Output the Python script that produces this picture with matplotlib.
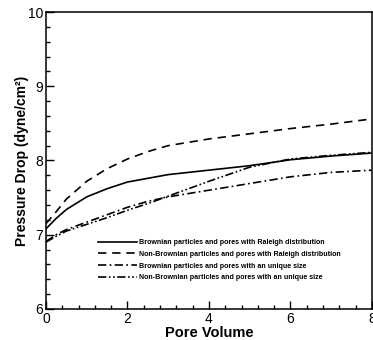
import matplotlib
matplotlib.use("Agg")
import matplotlib.pyplot as plt
from matplotlib.ticker import MultipleLocator

plt.rcParams['font.family'] = ['Liberation Sans', 'DejaVu Sans']

# pore volume and pressure drop
pore_volume = [0, 0.25, 0.5, 1, 1.5, 2, 2.5, 3, 4, 5, 6, 7, 8]
brownian_raleigh = [7.08, 7.22, 7.34, 7.51, 7.62, 7.71, 7.76, 7.81, 7.87, 7.93, 8.01, 8.06, 8.10]
nonbrownian_raleigh = [7.15, 7.31, 7.48, 7.72, 7.89, 8.02, 8.12, 8.20, 8.29, 8.36, 8.43, 8.49, 8.56]
brownian_unique = [6.91, 7.00, 7.07, 7.17, 7.27, 7.37, 7.45, 7.51, 7.60, 7.69, 7.78, 7.84, 7.87]
nonbrownian_unique = [6.90, 6.98, 7.05, 7.14, 7.23, 7.33, 7.42, 7.52, 7.72, 7.91, 8.02, 8.07, 8.11]

labels = ["Brownian particles and pores with Raleigh distribution",
          "Non-Brownian particles and pores with Raleigh distribution",
          "Brownian particles and pores with an unique size",
          "Non-Brownian particles and pores with an unique size"]

fig = plt.figure(figsize=(3.73, 3.40), dpi=100)
ax = fig.add_axes([0.1233, 0.0912, 0.8737, 0.8735])

lw = 1.2
ax.plot(pore_volume, brownian_raleigh, color='black', lw=lw, label=labels[0])
ax.plot(pore_volume, nonbrownian_raleigh, color='black', lw=lw, dashes=(5, 3.5), label=labels[1])
ax.plot(pore_volume, brownian_unique, color='black', lw=lw, dashes=(5, 2, 1, 2), label=labels[2])
ax.plot(pore_volume, nonbrownian_unique, color='black', lw=lw, dashes=(5, 1.5, 1, 1.5, 1, 1.5), label=labels[3])

ax.set_xlim(0, 8)
ax.set_ylim(6, 10)
ax.xaxis.set_major_locator(MultipleLocator(2))
ax.xaxis.set_minor_locator(MultipleLocator(0.4))
ax.yaxis.set_major_locator(MultipleLocator(1))
ax.yaxis.set_minor_locator(MultipleLocator(0.2))
ax.tick_params(which='both', direction='in', labelsize=10, width=1)
ax.tick_params(which='major', length=5.5, pad=2)
ax.tick_params(which='minor', length=3)
for s in ax.spines.values():
    s.set_linewidth(1.1)

ax.set_xlabel("Pore Volume", fontsize=10.5, fontweight='bold', labelpad=0)
ax.set_ylabel("Pressure Drop (dyne/cm²)", fontsize=10, fontweight='bold', labelpad=-1)

leg = ax.legend(loc='upper left', bbox_to_anchor=(0.15, 0.247), frameon=False,
                prop={'size': 5.1, 'weight': 'bold'}, handlelength=5.4,
                handletextpad=0.35, labelspacing=0.66, borderpad=0)

fig.savefig("out.png", dpi=100)
